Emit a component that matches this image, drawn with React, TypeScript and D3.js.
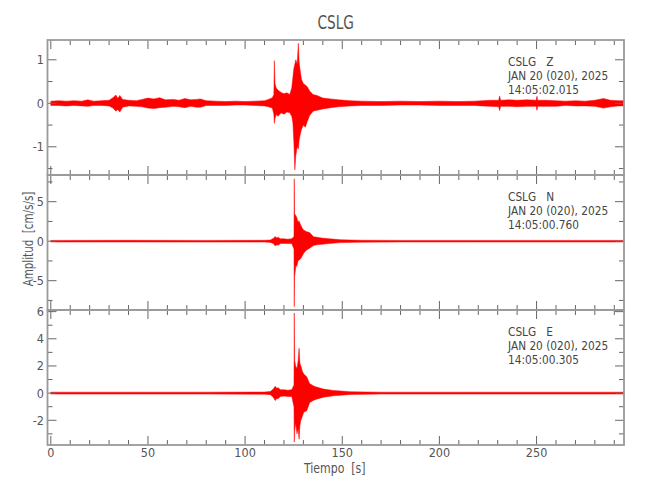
import React from 'react';
import * as d3 from 'd3';

// station / component info
const station = 'CSLG';
const components = ['Z', 'N', 'E'];
const dateLabel = 'JAN 20 (020), 2025';
const startTimes = ['14:05:02.015', '14:05:00.760', '14:05:00.305'];

// amplitude ranges of each trace (cm/s/s)
const yRanges: [number, number][] = [
  [-1.648, 1.455],
  [-8.71, 8.38],
  [-3.82, 6.12],
];
const yMajorTicks = [
  [-1, 0, 1],
  [-5, 0, 5],
  [-2, 0, 2, 4, 6],
];
const yMinorTicks = [
  [-1.5, -0.5, 0.5],
  [-7.5, -2.5, 2.5, 7.5],
  [-3, -1, 1, 3, 5],
];
const timeRange: [number, number] = [-1.7, 295];
const timeMajorTicks = [0, 50, 100, 150, 200, 250];
const timeMinorTicks = [10, 20, 30, 40, 60, 70, 80, 90, 110, 120, 130, 140, 160, 170, 180, 190, 210, 220, 230, 240, 260, 270, 280, 290];

// envelope of each trace: [time s, max, min]
const zEnvelope: [number, number, number][] = [
  [0, 0.05, -0.05], [4, 0.06, -0.05], [8, 0.05, -0.06], [12, 0.06, -0.05], [16, 0.05, -0.06],
  [19, 0.08, -0.07], [22, 0.05, -0.05], [26, 0.06, -0.05], [30, 0.07, -0.06], [32, 0.13, -0.11],
  [33.5, 0.19, -0.18], [34.5, 0.11, -0.14], [35.5, 0.18, -0.2], [37, 0.09, -0.09], [40, 0.07, -0.06],
  [44, 0.06, -0.07], [47, 0.09, -0.08], [50, 0.12, -0.11], [53, 0.1, -0.12], [56, 0.13, -0.1],
  [59, 0.08, -0.09], [63, 0.09, -0.07], [66, 0.07, -0.08], [69, 0.11, -0.1], [72, 0.08, -0.07],
  [75, 0.09, -0.09], [77, 0.1, -0.09], [80, 0.06, -0.05], [85, 0.05, -0.05], [90, 0.04, -0.05],
  [95, 0.05, -0.04], [100, 0.04, -0.04], [105, 0.05, -0.05], [110, 0.06, -0.06], [112, 0.09, -0.08],
  [114, 0.13, -0.11], [114.8, 0.2, -0.25], [115.05, 0.98, -0.46], [115.4, 0.45, -0.35], [116, 0.35, -0.26],
  [117, 0.3, -0.3], [118.5, 0.25, -0.22], [120, 0.22, -0.25], [121.5, 0.24, -0.2], [123, 0.2, -0.22],
  [124, 0.35, -0.3], [124.6, 0.6, -0.45], [125.1, 0.8, -0.9], [125.6, 0.9, -1.53], [126.1, 1.0, -1.2],
  [126.8, 0.9, -1.0], [127.4, 1.38, -1.05], [127.8, 0.95, -0.85], [128.2, 0.8, -0.75], [129, 0.55, -0.6],
  [130, 0.45, -0.5], [131, 0.42, -0.55], [132, 0.38, -0.42], [133.2, 0.28, -0.28], [135, 0.2, -0.18],
  [137, 0.18, -0.16], [140, 0.12, -0.13], [144, 0.1, -0.1], [148, 0.08, -0.08], [154, 0.06, -0.06],
  [160, 0.05, -0.05], [170, 0.04, -0.05], [180, 0.05, -0.04], [190, 0.04, -0.04], [200, 0.05, -0.05],
  [210, 0.04, -0.05], [218, 0.05, -0.05], [222, 0.06, -0.06], [226, 0.07, -0.07], [230.5, 0.07, -0.08],
  [231, 0.17, -0.17], [231.5, 0.07, -0.07], [236, 0.08, -0.07], [240, 0.07, -0.08], [245, 0.08, -0.07],
  [249.8, 0.07, -0.07], [250.2, 0.16, -0.16], [250.6, 0.07, -0.07], [255, 0.07, -0.07], [260, 0.06, -0.07],
  [265, 0.05, -0.05], [270, 0.06, -0.06], [275, 0.05, -0.06], [280, 0.07, -0.07], [284.5, 0.11, -0.11],
  [288, 0.07, -0.08], [292, 0.06, -0.06], [295, 0.06, -0.06],
];

const nEnvelope: [number, number, number][] = [
  [0, 0.1, -0.1], [40, 0.11, -0.1], [80, 0.1, -0.11], [110, 0.11, -0.11], [113, 0.15, -0.15],
  [114.5, 0.35, -0.3], [115.5, 0.6, -0.6], [116.3, 0.4, -0.45], [117.1, 0.5, -0.5], [118.1, 0.3, -0.3],
  [120, 0.3, -0.28], [122, 0.25, -0.3], [124, 0.3, -0.3], [125.15, 0.6, -1.0], [125.3, 7.9, -8.3],
  [125.45, 3.5, -4.5], [126.2, 3.2, -3.0], [126.6, 3.0, -3.2], [127.2, 2.4, -2.5], [127.7, 2.6, -2.4],
  [128.7, 2.0, -2.2], [129.5, 1.6, -1.8], [130.2, 1.4, -1.5], [131.7, 1.2, -1.1], [133.2, 1.1, -0.9],
  [135.2, 0.55, -0.55], [137, 0.5, -0.45], [139.3, 0.4, -0.4], [143.3, 0.3, -0.3], [149.3, 0.18, -0.18],
  [159.4, 0.12, -0.12], [180, 0.1, -0.1], [220, 0.1, -0.1], [260, 0.1, -0.1], [295, 0.1, -0.1],
];

const eEnvelope: [number, number, number][] = [
  [0, 0.07, -0.07], [40, 0.07, -0.07], [80, 0.07, -0.07], [110, 0.08, -0.08], [113, 0.12, -0.12],
  [114.5, 0.3, -0.3], [115.5, 0.5, -0.55], [116.3, 0.35, -0.4], [117.1, 0.4, -0.4], [118.1, 0.25, -0.25],
  [120, 0.25, -0.22], [122, 0.22, -0.25], [124, 0.25, -0.25], [125.15, 0.6, -1.0], [125.3, 5.9, -3.6],
  [125.5, 2.4, -2.8], [126.0, 2.0, -2.2], [126.7, 1.8, -3.0], [127.3, 2.4, -2.6], [127.8, 3.3, -3.4],
  [128.2, 2.2, -2.4], [128.7, 2.0, -2.0], [129.5, 1.6, -1.7], [130.2, 1.4, -1.4], [131.7, 1.2, -1.3],
  [133.2, 0.7, -0.7], [135, 0.55, -0.55], [136.7, 0.45, -0.45], [140.3, 0.3, -0.3], [145.3, 0.2, -0.2],
  [154.4, 0.1, -0.1], [170, 0.07, -0.07], [220, 0.07, -0.07], [260, 0.07, -0.07], [295, 0.07, -0.07],
];

const envelopes = [zEnvelope, nEnvelope, eEnvelope];

const FONT = "'Liberation Sans Narrow', 'DejaVu Sans Condensed', sans-serif";
const FRAME = '#9a9a9a';
const TICK = '#666';
const TEXT = '#555';

const App: React.FC = () => {
  const width = 650;
  const height = 500;
  const left = 47.5;
  const right = 624;
  const top = 40;
  const panelH = 135;

  const x = d3.scaleLinear().domain(timeRange).range([left, right]);

  return (
    <svg width={width} height={height} style={{ position: 'absolute', left: 0, top: 0, background: '#fff' }} fontFamily={FONT}>
      <text x={0} y={0} fontSize={19} fill={TEXT} textAnchor="middle" transform={`translate(${(left + right) / 2},29) scale(0.8,1)`}>
        {station}
      </text>

      {components.map((comp, i) => {
        const y0 = top + i * panelH;
        const y1 = y0 + panelH;
        const y = d3.scaleLinear().domain(yRanges[i]).range([y1, y0]);
        const area = d3
          .area<[number, number, number]>()
          .x(d => x(d[0]))
          .y0(d => y(d[2]))
          .y1(d => y(d[1]));
        const isLast = i === components.length - 1;
        return (
          <g key={comp}>
            <path d={area(envelopes[i]) || ''} fill="#ff0000" stroke="#ff0000" strokeWidth={0.5} />

            {/* x ticks top and bottom */}
            {timeMajorTicks.map(t => (
              <g key={`xM${t}`} stroke={TICK} strokeWidth={1}>
                <line x1={x(t)} x2={x(t)} y1={y0} y2={y0 + 9} />
                <line x1={x(t)} x2={x(t)} y1={y1} y2={y1 - 9} />
              </g>
            ))}
            {timeMinorTicks.map(t => (
              <g key={`xm${t}`} stroke={TICK} strokeWidth={1}>
                <line x1={x(t)} x2={x(t)} y1={y0} y2={y0 + 5} />
                <line x1={x(t)} x2={x(t)} y1={y1} y2={y1 - 5} />
              </g>
            ))}

            {/* y ticks left and right */}
            {yMajorTicks[i].map(v => (
              <g key={`yM${v}`}>
                <line x1={left} x2={left + 9} y1={y(v)} y2={y(v)} stroke={TICK} />
                <line x1={right} x2={right - 9} y1={y(v)} y2={y(v)} stroke={TICK} />
                <text x={44} y={y(v)} dy="0.36em" textAnchor="end" fontSize={12.5} fill={TEXT}>
                  {String(v)}
                </text>
              </g>
            ))}
            {yMinorTicks[i].map(v => (
              <g key={`ym${v}`} stroke={TICK}>
                <line x1={left} x2={left + 5} y1={y(v)} y2={y(v)} />
                <line x1={right} x2={right - 5} y1={y(v)} y2={y(v)} />
              </g>
            ))}

            <rect x={left} y={y0} width={right - left} height={panelH} fill="none" stroke={FRAME} strokeWidth={1.8} />

            <g transform={`translate(508,0) scale(0.94,1)`} fontSize={12.5} fill="#444">
              <text x={0} y={y0 + 26} style={{ whiteSpace: 'pre' }}>
                {`${station}   ${comp}`}
              </text>
              <text x={0} y={y0 + 40}>
                {dateLabel}
              </text>
              <text x={0} y={y0 + 54.3}>
                {startTimes[i]}
              </text>
            </g>

            {isLast &&
              timeMajorTicks.map(t => (
                <text key={`xl${t}`} x={x(t)} y={457} textAnchor="middle" fontSize={12.5} fill={TEXT}>
                  {t}
                </text>
              ))}
          </g>
        );
      })}

      <text
        transform={`translate(${(left + right) / 2 - 1},473) scale(0.9,1)`}
        textAnchor="middle"
        fontSize={13.5}
        fill={TEXT}
        style={{ whiteSpace: 'pre' }}
      >
        {'Tiempo  [s]'}
      </text>
      <text transform="translate(32.5,239) rotate(-90) scale(0.82,1)" textAnchor="middle" fontSize={14} fill={TEXT} style={{ whiteSpace: 'pre' }}>
        {'Amplitud  [cm/s/s]'}
      </text>
    </svg>
  );
};

export default App;
